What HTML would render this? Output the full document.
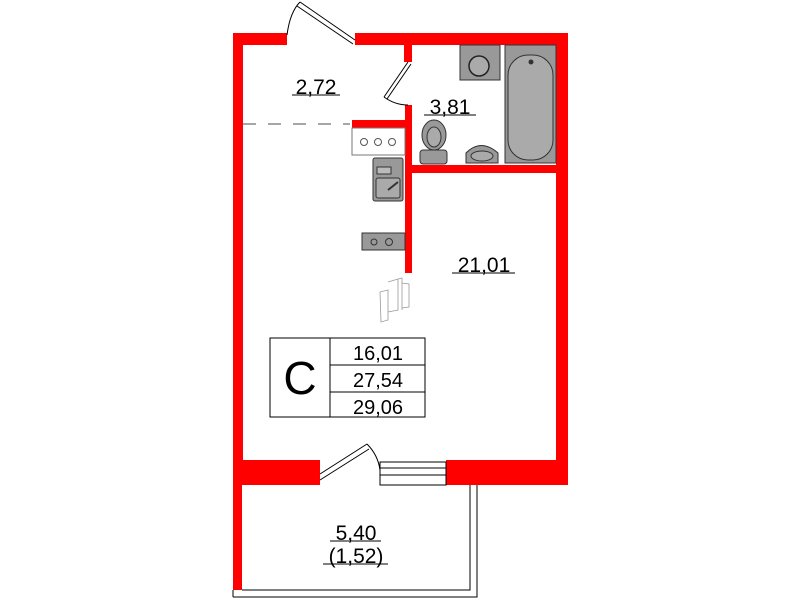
<!DOCTYPE html>
<html><head><style>body{margin:0;background:#fff}svg{display:block}text{font-family:"Liberation Sans",sans-serif;fill:#000}</style></head><body>
<svg width="800" height="600" viewBox="0 0 800 600" xmlns="http://www.w3.org/2000/svg">
<g fill="#ff0000">
<rect x="233" y="33" width="54" height="12"/>
<rect x="355" y="33" width="213" height="12"/>
<rect x="233" y="33" width="10" height="452"/>
<rect x="556" y="33" width="12" height="452"/>
<rect x="233" y="460" width="87" height="25"/>
<rect x="446" y="460" width="122" height="25"/>
<rect x="233" y="485" width="9" height="105"/>
<rect x="404" y="45" width="8" height="17"/>
<rect x="405" y="105" width="7" height="168"/>
<rect x="405" y="165" width="151" height="8"/>
<rect x="352" y="120" width="53" height="8"/>
</g>
<g fill="none" stroke="#000" stroke-width="1">
<path d="M287 35 Q290 12 300 2"/><path d="M300 2 L355 40 M297 6 L353 44"/>
<path d="M408 62 L384 97 M411 64 L387 99"/><path d="M384 97 Q395 105 408 105"/>
<path d="M320 474 L367 444 M320 480 L369 449"/><path d="M367 444 Q378 455 380 470"/>
<rect x="380" y="462" width="66" height="23"/><line x1="380" y1="468" x2="446" y2="468"/><line x1="380" y1="475" x2="446" y2="475"/>
<path d="M242 590 L470 590 L470 485 M233 597 L477 597 L477 485 M233 590 L233 597"/>
<line x1="243" y1="124" x2="350" y2="124" stroke="#888" stroke-dasharray="13,12" stroke-width="1.5"/>
</g>
<rect x="352" y="128" width="53" height="27" fill="#fff" stroke="#777"/>
<g fill="none" stroke="#555"><circle cx="364" cy="142" r="3.5"/><circle cx="378" cy="142" r="3.5"/><circle cx="392" cy="142" r="3.5"/></g>
<rect x="373" y="158" width="30" height="43" rx="2" fill="#999" stroke="#333"/>
<rect x="377" y="167" width="14" height="7" fill="#bbb" stroke="#333"/>
<rect x="376" y="178" width="24" height="20" rx="2" fill="#aaa" stroke="#333"/>
<line x1="388" y1="190" x2="398" y2="182" stroke="#333" stroke-width="2"/>
<rect x="362" y="233" width="43" height="17" fill="#999" stroke="#333"/>
<g fill="none" stroke="#333"><circle cx="374" cy="242" r="3"/><circle cx="389" cy="242" r="3.5"/></g>
<g fill="none" stroke="#999" stroke-width="0.8"><path d="M380 292 L388 290 L388 320 L381 322 Z M388 282 L398 279 L398 310 L388 312 M398 279 L402 278 L402 310 M402 283 L409 284 L409 307 L402 308"/></g>
<rect x="460" y="45" width="40" height="35" fill="#999" stroke="#333"/>
<circle cx="479" cy="66" r="10" fill="#aaa" stroke="#222" stroke-width="1.5"/>
<rect x="505" y="45" width="51" height="118" fill="#999" stroke="#333"/>
<rect x="508" y="55" width="45" height="105" rx="20" fill="#aaa" stroke="#333"/>
<circle cx="531" cy="62" r="2.5" fill="#333"/>
<ellipse cx="434" cy="135" rx="12" ry="15" fill="#999" stroke="#333"/>
<ellipse cx="434" cy="137" rx="7" ry="10" fill="#aaa" stroke="#333"/>
<rect x="420" y="150" width="27" height="14" rx="3" fill="#999" stroke="#333"/>
<path d="M466 163 L466 153 Q481 138 498 153 L498 163 Z" fill="#999" stroke="#333"/>
<ellipse cx="482" cy="156" rx="11" ry="5" fill="#aaa" stroke="#333"/>
<g font-size="21">
<text x="316" y="94" text-anchor="middle">2,72</text><line x1="292" y1="95" x2="340" y2="95" stroke="#000"/>
<text x="450" y="114" text-anchor="middle">3,81</text><line x1="424" y1="115" x2="476" y2="115" stroke="#000"/>
<text x="484" y="272" text-anchor="middle">21,01</text><line x1="452" y1="273" x2="515" y2="273" stroke="#000"/>
<text x="356" y="540" text-anchor="middle">5,40</text><line x1="330" y1="541" x2="381" y2="541" stroke="#000"/>
<text x="356" y="563" text-anchor="middle">(1,52)</text><line x1="323" y1="564" x2="388" y2="564" stroke="#000"/>
</g>
<g fill="none" stroke="#000"><rect x="270" y="338" width="155" height="79"/><line x1="330" y1="338" x2="330" y2="417"/><line x1="330" y1="365" x2="425" y2="365"/><line x1="330" y1="392" x2="425" y2="392"/></g>
<text x="300" y="394" font-size="46" text-anchor="middle">C</text>
<g font-size="20" text-anchor="middle"><text x="378" y="360">16,01</text><text x="378" y="387">27,54</text><text x="378" y="414">29,06</text></g>
</svg>
</body></html>
